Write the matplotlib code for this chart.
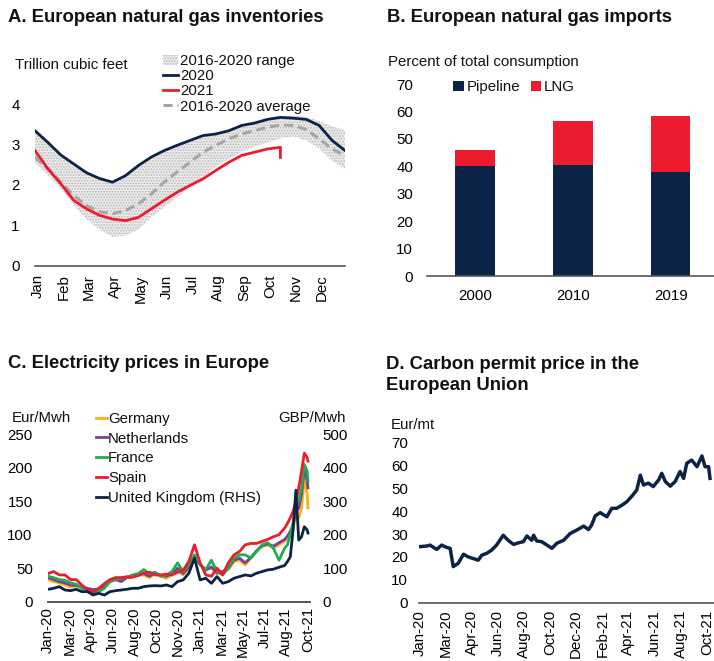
import numpy as np
import pandas as pd
import matplotlib
matplotlib.use("Agg")
import matplotlib.pyplot as plt
from matplotlib.patches import Patch
from matplotlib.lines import Line2D

plt.rcParams['font.family'] = ['Liberation Sans', 'DejaVu Sans']
plt.rcParams['font.size'] = 10.8
plt.rcParams['text.color'] = '#111111'
plt.rcParams['hatch.linewidth'] = 0.8

NAVY = '#0b2346'
RED = '#ec1c2e'
GREY = '#a6a6a6'

# ---- A. gas inventories (trillion cubic feet, half-month steps from Jan 1)
a_x = np.arange(0, 12.5, 0.5)
gas_2020 = [3.34, 3.05, 2.74, 2.52, 2.30, 2.16, 2.07, 2.23, 2.48, 2.69, 2.85, 2.98, 3.10,
            3.22, 3.26, 3.34, 3.47, 3.53, 3.62, 3.67, 3.65, 3.62, 3.47, 3.10, 2.85]
gas_avg = [2.69, 2.40, 2.07, 1.74, 1.49, 1.34, 1.29, 1.37, 1.53, 1.78, 2.07, 2.32, 2.56,
           2.81, 2.98, 3.14, 3.26, 3.34, 3.43, 3.48, 3.47, 3.37, 3.14, 2.89, 2.73]
range_high = [3.34, 3.05, 2.74, 2.52, 2.30, 2.16, 2.07, 2.23, 2.48, 2.69, 2.85, 2.98, 3.10,
              3.22, 3.26, 3.34, 3.47, 3.53, 3.62, 3.68, 3.70, 3.68, 3.58, 3.45, 3.35]
range_low = [2.55, 2.25, 1.90, 1.50, 1.15, 0.90, 0.72, 0.75, 0.90, 1.20, 1.45, 1.70, 1.95,
             2.20, 2.45, 2.65, 2.82, 2.95, 3.05, 3.15, 3.20, 3.10, 2.90, 2.60, 2.40]
gas_2021 = [2.85, 2.40, 2.03, 1.62, 1.41, 1.25, 1.16, 1.12, 1.20, 1.41, 1.62, 1.82, 1.99,
            2.15, 2.36, 2.56, 2.73, 2.81, 2.89, 2.93, 2.68]
x_2021 = list(a_x[:20]) + [9.5]
months = ['Jan', 'Feb', 'Mar', 'Apr', 'May', 'Jun', 'Jul', 'Aug', 'Sep', 'Oct', 'Nov', 'Dec']

# ---- B. imports, percent of total consumption
years = ['2000', '2010', '2019']
pipeline = [40.0, 40.4, 37.8]
lng = [6.0, 16.1, 20.7]

# ---- C. electricity prices (days since 1 Jan 2020)
elec_day = list(range(0, 589, 14)) + [595, 602, 609, 616, 623, 630, 637, 644, 646]
germany = [33, 30, 28, 25, 22, 24, 20, 18, 15, 20, 22, 30, 35, 34, 38, 36, 40, 40, 36, 42,
           38, 35, 40, 45, 40, 50, 65, 55, 48, 50, 42, 45, 48, 60, 62, 55, 65, 75, 82, 85,
           80, 85, 90, 95, 100, 110, 130, 125, 140, 185, 160, 140]
netherlands = [36, 33, 30, 28, 25, 24, 22, 20, 18, 19, 22, 30, 33, 30, 36, 37, 40, 42, 38, 43,
               39, 38, 42, 50, 42, 52, 68, 56, 47, 52, 43, 45, 50, 62, 65, 58, 66, 76, 84, 86,
               83, 88, 93, 98, 105, 115, 135, 140, 160, 200, 180, 170]
france = [38, 36, 33, 32, 28, 26, 20, 17, 14, 15, 20, 30, 33, 35, 36, 40, 42, 48, 42, 44,
          38, 40, 45, 58, 45, 55, 70, 55, 48, 62, 45, 40, 50, 65, 70, 70, 65, 75, 85, 88,
          80, 62, 80, 85, 100, 118, 145, 150, 170, 205, 195, 180]
spain = [42, 45, 40, 40, 33, 33, 25, 18, 14, 20, 27, 33, 36, 36, 37, 37, 39, 43, 44, 40,
         40, 41, 40, 44, 47, 60, 85, 58, 40, 38, 50, 40, 58, 70, 75, 85, 87, 87, 90, 93,
         97, 100, 110, 117, 125, 135, 150, 170, 195, 222, 215, 210]
uk = [37, 40, 45, 35, 33, 37, 30, 30, 20, 25, 20, 30, 33, 35, 37, 40, 40, 45, 47, 48,
      47, 50, 45, 60, 65, 85, 130, 65, 70, 55, 75, 55, 60, 70, 75, 80, 77, 85, 90, 95,
      97, 103, 108, 120, 134, 214, 333, 184, 194, 224, 214, 205]
elec_labels = ['Jan-20', 'Mar-20', 'Apr-20', 'Jun-20', 'Aug-20', 'Oct-20', 'Nov-20',
               'Jan-21', 'Mar-21', 'May-21', 'Jul-21', 'Aug-21', 'Oct-21']

# ---- D. EU carbon permit price (days since 1 Jan 2020)
carbon_day = [0, 17, 24, 39, 50, 61, 69, 76, 87, 99, 110, 121, 132, 140, 151, 162, 173, 188,
              199, 211, 222, 233, 241, 252, 256, 263, 274, 286, 297, 308, 323, 338, 353, 368,
              379, 386, 394, 405, 420, 431, 442, 454, 465, 476, 487, 495, 502, 513, 524, 536,
              543, 551, 562, 573, 584, 592, 599, 610, 622, 633, 640, 648, 651]
carbon = [24.5, 24.8, 25.2, 23.3, 25.2, 24.2, 23.8, 15.8, 17.2, 21.2, 20, 19.3, 18.6, 20.8,
          21.6, 23, 25.2, 29.5, 27.3, 25.5, 26.2, 26.7, 29.2, 27.3, 29.5, 27, 26.7, 25.2,
          23.8, 26, 27.3, 30.3, 31.8, 33.5, 32, 34, 38, 39.4, 37.6, 41.3, 41.3, 42.7, 44.2,
          46.6, 49.3, 55.8, 51.5, 52.3, 50.8, 53.7, 56.6, 53, 51, 53, 57.4, 54.4, 61, 62.4,
          59.5, 64.2, 59.5, 59.5, 54.4]
carbon_labels = ['Jan-20', 'Mar-20', 'Apr-20', 'Jun-20', 'Aug-20', 'Oct-20', 'Dec-20',
                 'Feb-21', 'Apr-21', 'Jun-21', 'Aug-21', 'Oct-21']

W, H = 714, 661
fig = plt.figure(figsize=(W / 100, H / 100), dpi=100)


def box(left, top, right, bottom):
    # pixel rectangle -> figure fraction
    return [left / W, 1 - bottom / H, (right - left) / W, (bottom - top) / H]


def put(x, y, s, **kw):
    fig.text(x / W, 1 - y / H, s, va='center', **kw)


def style(ax):
    for s in ['top', 'right', 'left']:
        ax.spines[s].set_visible(False)
    ax.spines['bottom'].set_color('#555555')
    ax.spines['bottom'].set_linewidth(1.2)
    ax.tick_params(length=0)
    ax.patch.set_alpha(0)


# A
ax = fig.add_axes(box(35, 104, 345, 266))
style(ax)
ax.fill_between(a_x, range_low, range_high, facecolor='#ececec', hatch='......',
                edgecolor='#b8b8b8', linewidth=0)
ax.plot(a_x, gas_avg, color=GREY, lw=2.2, dashes=(3, 1.6))
ax.plot(a_x, gas_2020, color=NAVY, lw=2)
ax.plot(x_2021, gas_2021, color=RED, lw=2)
ax.set_xlim(0, 12)
ax.set_ylim(0, 4)
ax.set_yticks(range(5))
ax.set_xticks(np.arange(12) + 0.1)
ax.set_xticklabels(months, rotation=90)
ax.tick_params(axis='y', pad=11)
ax.tick_params(axis='x', pad=6)
handles = [Patch(facecolor='#ececec', hatch='......', edgecolor='#b8b8b8', lw=0),
           Line2D([], [], color=NAVY, lw=2),
           Line2D([], [], color=RED, lw=2),
           Line2D([], [], color=GREY, lw=2.2, dashes=(3, 1.6))]
fig.legend(handles, ['2016-2020 range', '2020', '2021', '2016-2020 average'],
           loc='upper left', bbox_to_anchor=(163 / W, 1 - 54 / H), frameon=False,
           handlelength=1.0, handletextpad=0.15, labelspacing=0.08,
           borderpad=0, borderaxespad=0)
put(15, 65, 'Trillion cubic feet')
put(8, 17, 'A. European natural gas inventories', fontweight='bold', fontsize=13.3)

# B
ax = fig.add_axes(box(427, 84, 714, 276))
style(ax)
xb = np.arange(len(years))
ax.bar(xb, pipeline, 0.4, color=NAVY, label='Pipeline')
ax.bar(xb, lng, 0.4, bottom=pipeline, color=RED, label='LNG')
ax.set_xlim(-0.49, 2.44)
ax.set_ylim(0, 70)
ax.set_yticks(range(0, 71, 10))
ax.set_xticks(xb)
ax.set_xticklabels(years)
ax.tick_params(axis='y', pad=10)
ax.tick_params(axis='x', pad=9)
fig.legend(loc='upper left', bbox_to_anchor=(453 / W, 1 - 80 / H), ncol=2, frameon=False,
           handlelength=0.7, handleheight=0.7, handletextpad=0.2, columnspacing=0.7,
           borderpad=0, borderaxespad=0)
put(388, 62, 'Percent of total consumption')
put(387, 17, 'B. European natural gas imports', fontweight='bold', fontsize=13.3)

# C
ax = fig.add_axes(box(48, 434.3, 310, 601.7))
style(ax)
ax2 = ax.twinx()
style(ax2)
lines = []
for vals, col, name in [(germany, '#fbb116', 'Germany'), (netherlands, '#7a3ea1', 'Netherlands'),
                        (france, '#1fae4f', 'France'), (spain, RED, 'Spain')]:
    lines += ax.plot(elec_day, vals, color=col, lw=2, label=name)
lines += ax2.plot(elec_day, uk, color=NAVY, lw=2, label='United Kingdom (RHS)')
ax.set_xlim(0, 651)
ax.set_ylim(0, 250)
ax2.set_ylim(0, 500)
ax.set_yticks(range(0, 251, 50))
ax2.set_yticks(range(0, 501, 100))
ax.set_xticks(np.linspace(0, 646, len(elec_labels)))
ax.set_xticklabels(elec_labels, rotation=90)
ax.tick_params(axis='y', pad=11)
ax2.tick_params(axis='y', pad=9)
ax.tick_params(axis='x', pad=4)
fig.legend(lines, [l.get_label() for l in lines], loc='upper left',
           bbox_to_anchor=(96 / W, 1 - 412 / H), frameon=False, handlelength=0.7,
           handletextpad=0.1, labelspacing=0.38, borderpad=0, borderaxespad=0)
put(12, 418, 'Eur/Mwh')
put(346, 418, 'GBP/Mwh', ha='right')
put(8, 363, 'C. Electricity prices in Europe', fontweight='bold', fontsize=13.3)

# D
ax = fig.add_axes(box(419.3, 442.7, 714, 602.7))
style(ax)
ax.plot(carbon_day, carbon, color=NAVY, lw=2.5)
ax.set_xlim(0, 660)
ax.set_ylim(0, 70)
ax.set_yticks(range(0, 71, 10))
ax.set_xticks(np.linspace(0, 644, len(carbon_labels)))
ax.set_xticklabels(carbon_labels, rotation=90)
ax.tick_params(axis='y', pad=8)
ax.tick_params(axis='x', pad=5)
put(391, 425, 'Eur/mt')
put(386, 375, 'D. Carbon permit price in the\nEuropean Union', fontweight='bold',
    fontsize=13.3, linespacing=1.35)

fig.savefig('out.png', dpi=100)
